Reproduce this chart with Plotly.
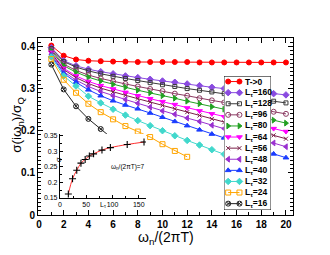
import plotly.graph_objects as go

# ---------------- data ----------------
omega = [1, 2, 3, 4, 5, 6, 7, 8, 9, 10, 11, 12, 13, 14, 15, 16, 17, 18, 19, 20]

sig_T0 = [0.402, 0.378, 0.369, 0.366, 0.365, 0.364, 0.364, 0.363, 0.363, 0.363,
          0.363, 0.363, 0.362, 0.362, 0.362, 0.362, 0.362, 0.362, 0.362, 0.362]
sig_L160 = [0.397, 0.366, 0.354, 0.346, 0.340, 0.335, 0.330, 0.326, 0.322, 0.318,
            0.315, 0.311, 0.307, 0.303, 0.300, 0.297, 0.294, 0.291, 0.288, 0.285]
sig_L128 = [0.395, 0.364, 0.351, 0.342, 0.335, 0.329, 0.324, 0.319, 0.314, 0.309,
            0.305, 0.300, 0.296, 0.292, 0.288, 0.284, 0.280, 0.275, 0.270, 0.266]
sig_L96 = [0.392, 0.358, 0.343, 0.332, 0.324, 0.317, 0.311, 0.305, 0.299, 0.294,
           0.288, 0.283, 0.277, 0.272, 0.267, 0.262, 0.256, 0.250, 0.245, 0.240]
sig_L80 = [0.389, 0.354, 0.339, 0.327, 0.318, 0.310, 0.303, 0.296, 0.290, 0.283,
           0.277, 0.270, 0.264, 0.257, 0.251, 0.244, 0.238, 0.231, 0.225, 0.218]
sig_L64 = [0.386, 0.348, 0.330, 0.317, 0.307, 0.299, 0.291, 0.283, 0.276, 0.269,
           0.262, 0.254, 0.247, 0.240, 0.233, 0.226, 0.219, 0.212, 0.205, 0.198]
sig_L56 = [0.384, 0.345, 0.326, 0.312, 0.301, 0.292, 0.284, 0.276, 0.268, 0.260,
           0.252, 0.244, 0.236, 0.228, 0.220, 0.212, 0.204, 0.197, 0.189, 0.181]
sig_L48 = [0.381, 0.340, 0.320, 0.305, 0.293, 0.283, 0.274, 0.265, 0.256, 0.247,
           0.239, 0.230, 0.222, 0.213, 0.205, 0.196, 0.188, 0.179, 0.171, 0.162]
sig_L40 = [0.378, 0.336, 0.315, 0.297, 0.283, 0.271, 0.261, 0.252, 0.242, 0.232,
           0.222, 0.212, 0.202, 0.192, 0.183, 0.173, 0.164, 0.154, 0.145, 0.136]
sig_L32 = [0.375, 0.330, 0.306, 0.282, 0.266, 0.251, 0.237, 0.224, 0.212, 0.200,
           0.188, 0.177, 0.166, 0.155, 0.144, 0.133]
sig_L24 = [0.370, 0.321, 0.290, 0.264, 0.244, 0.227, 0.211, 0.198, 0.185, 0.168,
           0.152, 0.138]
sig_L16 = [0.357, 0.298, 0.258, 0.228, 0.204, 0.180, 0.161, 0.141]

# inset: sigma at omega_n/(2 pi T) = 7 versus L_tau
inset_L = [16, 24, 32, 40, 48, 56, 64, 80, 96, 128, 160]
inset_sig = [0.163, 0.212, 0.239, 0.262, 0.274, 0.285, 0.292, 0.304, 0.312, 0.322, 0.330]

legend_names = ["T->0", "L<sub>τ</sub>=160", "L<sub>τ</sub>=128", "L<sub>τ</sub>=96",
                "L<sub>τ</sub>=80", "L<sub>τ</sub>=64", "L<sub>τ</sub>=56", "L<sub>τ</sub>=48",
                "L<sub>τ</sub>=40", "L<sub>τ</sub>=32", "L<sub>τ</sub>=24", "L<sub>τ</sub>=16"]

# ---------------- styles ----------------
series = [sig_T0, sig_L160, sig_L128, sig_L96, sig_L80, sig_L64, sig_L56,
          sig_L48, sig_L40, sig_L32, sig_L24, sig_L16]
colors = ["#ff0000", "#8a4be0", "#3a3a3a", "#8b3a62", "#22a022", "#ff00ff", "#7a1f48",
          "#9a30d0", "#1a3cff", "#40d8cc", "#ffa500", "#202020"]
symbols = ["circle", "diamond", "square-open", "circle-open", "triangle-right",
           "triangle-down", "x-thin", "triangle-left", "triangle-up", "diamond",
           "square-open", "circle-x-open"]
sizes = [5, 5, 4, 5, 5, 5, 4, 5, 5, 5, 5, 5]

FONT = "Liberation Sans, Arial, sans-serif"

fig = go.Figure()

for s, c, sym, sz in zip(series, colors, symbols, sizes):
    mk = dict(symbol=sym, size=sz, color=c, line=dict(color=c, width=1))
    fig.add_trace(go.Scatter(x=omega[:len(s)], y=s, mode="lines+markers",
                             line=dict(color=c, width=1), marker=mk,
                             showlegend=False, xaxis="x", yaxis="y"))

# inset
fig.add_trace(go.Scatter(x=inset_L, y=inset_sig, mode="lines",
                         line=dict(color="#ff3030", width=1, shape="spline"),
                         showlegend=False, xaxis="x2", yaxis="y2"))
fig.add_trace(go.Scatter(x=inset_L, y=inset_sig, mode="markers",
                         marker=dict(symbol="cross-thin", size=5, color="black",
                                     line=dict(color="black", width=1.1)),
                         showlegend=False, xaxis="x2", yaxis="y2"))

# custom legend (box + samples) on its own overlay axes
fig.add_trace(go.Scatter(x=[0, 1, 1, 0, 0], y=[0, 0, 1, 1, 0], mode="lines",
                         fill="toself", fillcolor="white",
                         line=dict(color="black", width=1), cliponaxis=False,
                         showlegend=False, hoverinfo="skip", xaxis="x3", yaxis="y3"))
for i, (name, c, sym, sz) in enumerate(zip(legend_names, colors, symbols, sizes)):
    yy = (210 - (81.5 + 11.1 * i)) / 134.0
    fig.add_trace(go.Scatter(x=[0.09, 0.33], y=[yy, yy], mode="lines+markers",
                             line=dict(color=c, width=1),
                             marker=dict(symbol=sym, size=sz, color=c,
                                         line=dict(color=c, width=1)),
                             showlegend=False, hoverinfo="skip", cliponaxis=False,
                             xaxis="x3", yaxis="y3"))
    fig.add_annotation(x=0.40, y=yy, xref="x3", yref="y3", text="<b>" + name + "</b>",
                       showarrow=False, xanchor="left", yanchor="middle",
                       font=dict(family=FONT, size=8.5, color="black"))

axis_common = dict(showline=True, linecolor="black", linewidth=1, mirror="allticks",
                   ticks="inside", ticklen=5, tickwidth=1, tickcolor="black",
                   showgrid=False, zeroline=False, automargin=False)

# the page body adds an 8px offset, so the figure is laid out 8px up/left
fig.update_layout(
    width=322, height=247,
    margin=dict(l=30, r=37, t=30, b=40, autoexpand=False),
    paper_bgcolor="white", plot_bgcolor="white",
    font=dict(family=FONT, color="black"),
    xaxis=dict(range=[-0.08, 20.57], dtick=2, tick0=0,
               minor=dict(dtick=1, ticklen=3, ticks="inside", tickcolor="black"),
               tickfont=dict(size=10, family="Liberation Sans, Arial", weight="bold"),
               **axis_common),
    yaxis=dict(range=[0, 0.42], dtick=0.1, tick0=0,
               minor=dict(dtick=0.01, ticklen=3, ticks="inside", tickcolor="black"),
               tickfont=dict(size=10, family="Liberation Sans, Arial", weight="bold"),
               tickformat="~g",
               **axis_common),
    xaxis2=dict(domain=[0.086, 0.424], anchor="y2", range=[0, 164], dtick=50,
                showline=True, linecolor="black", linewidth=1, ticks="inside",
                ticklen=3, tickcolor="black", showgrid=False, zeroline=False,
                automargin=False,
                minor=dict(dtick=25, ticklen=2, ticks="inside", tickcolor="black"),
                tickfont=dict(size=7)),
    yaxis2=dict(domain=[0.096, 0.458], anchor="x2", range=[0.15, 0.356], dtick=0.05,
                tick0=0.15, showline=True, linecolor="black", linewidth=1, ticks="inside",
                ticklen=3, tickcolor="black", showgrid=False, zeroline=False,
                automargin=False,
                minor=dict(dtick=0.025, ticklen=2, ticks="inside", tickcolor="black"),
                tickfont=dict(size=7), tickformat="~g"),
    xaxis3=dict(domain=[0.729, 0.914], anchor="y3", range=[0, 1], visible=False),
    yaxis3=dict(domain=[0.028, 0.785], anchor="x3", range=[0, 1], visible=False),
)

# main axis titles
fig.add_annotation(x=0.5, y=-0.128, xref="paper", yref="paper",
                   text="ω<sub>n</sub>/(2πT)", showarrow=False, yanchor="middle",
                   font=dict(size=14, family=FONT))
fig.add_annotation(x=-0.078, y=0.51, xref="paper", yref="paper",
                   text="σ(iω<sub>n</sub>)/σ<sub>Q</sub>", showarrow=False, textangle=-90,
                   xanchor="center", yanchor="middle", borderpad=0,
                   font=dict(size=13.5, family=FONT))

# inset labels
fig.add_annotation(x=0.565, y=0.48, xref="x2 domain", yref="y2 domain",
                   text="ω<sub>n</sub>/(2πT)=7", showarrow=False,
                   font=dict(size=6.5, family=FONT), xanchor="left")
fig.add_annotation(x=-0.09, y=0.6, xref="x2 domain", yref="y2 domain",
                   text="σ", showarrow=False, textangle=-90,
                   font=dict(size=8, family=FONT))
fig.add_annotation(x=0.555, y=-0.2, xref="x2 domain", yref="y2 domain",
                   text="L<sub>τ</sub>", showarrow=False, xanchor="right",
                   font=dict(size=7, family=FONT))

fig.write_html("out.html")
